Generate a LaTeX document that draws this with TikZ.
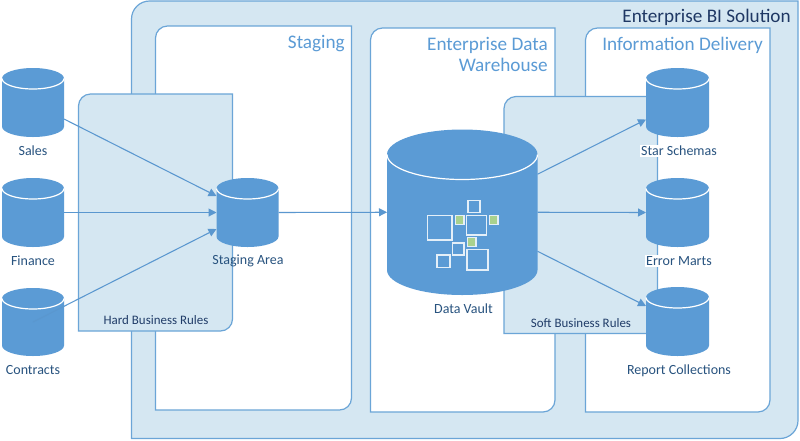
\documentclass[tikz,border=0pt]{standalone}
\usepackage{fontspec}
\setmainfont{Carlito}
\usetikzlibrary{arrows.meta,calc}
\definecolor{cylblue}{HTML}{5B9BD5}
\definecolor{linkblue}{HTML}{5A97CF}
\definecolor{edgeblue}{HTML}{6BA5D7}
\definecolor{panel}{HTML}{D5E7F2}
\definecolor{labeltxt}{HTML}{28537F}
\definecolor{darktxt}{HTML}{1F3864}
\definecolor{sqgreen}{HTML}{A9D18E}
\definecolor{sqedge}{HTML}{E4EFF8}
\tikzset{
  x=0.75pt,y=-0.75pt,
  panelbox/.style={draw=edgeblue,line width=0.9pt,fill=panel},
  whitebox/.style={draw=edgeblue,line width=0.9pt,fill=white},
  link/.style={draw=linkblue,line width=0.8pt,-{Triangle[length=6pt,width=6pt]}},
  cyllabel/.style={font=\fontsize{10.5}{12}\selectfont,text=labeltxt,inner sep=1pt},
  rulelabel/.style={font=\fontsize{9.7}{12}\selectfont,text=darktxt!85!labeltxt,inner sep=0pt},
  paneltitle/.style={font=\fontsize{14.4}{15.5}\selectfont,text=cylblue,align=right,inner sep=0pt,anchor=north east},
  smallsq/.style={draw=sqedge,line width=0.85pt},
  greensq/.style={draw=sqedge,line width=0.85pt,fill=sqgreen},
}
% box with rounded top-left and bottom-right corners: style, x1, y1, x2, y2, r
\newcommand{\tlbrbox}[6]{%
  \draw[#1] ({#2+#6},#3) -- (#4,#3) -- (#4,{#5-#6})
    .. controls (#4,{#5-0.45*#6}) and ({#4-0.45*#6},#5) .. ({#4-#6},#5)
    -- (#2,#5) -- (#2,{#3+#6})
    .. controls (#2,{#3+0.45*#6}) and ({#2+0.45*#6},#3) .. cycle;}
% cylinder: name, x1, y1, x2, y2, ry
\newcommand{\cylinder}[6]{%
  \pgfmathsetmacro{\cylw}{(#4-#2)*0.75}%
  \pgfmathsetmacro{\cylh}{(#5-#3)*0.75}%
  \pgfmathsetmacro{\cylrx}{(#4-#2)*0.375}%
  \pgfmathsetmacro{\cylry}{#6*0.75}%
  \fill[cylblue] (#2,{#3+#6}) -- (#2,{#5-#6})
    arc[start angle=180,end angle=360,x radius=\cylrx pt,y radius=\cylry pt]
    -- (#4,{#3+#6})
    arc[start angle=0,end angle=180,x radius=\cylrx pt,y radius=\cylry pt] -- cycle;
  \draw[white,line width=0.9pt] (#2,{#3+#6})
    arc[start angle=180,end angle=360,x radius=\cylrx pt,y radius=\cylry pt];
  \node[minimum width=\cylw pt,minimum height=\cylh pt,inner sep=0pt,outer sep=0pt] (#1) at ({(#2+#4)/2},{(#3+#5)/2}) {};}
\begin{document}
\begin{tikzpicture}
\useasboundingbox (0,0) rectangle (800,440);
\fill[white] (0,0) rectangle (800,440);
% containers
\tlbrbox{panelbox}{131.5}{1}{798}{438.5}{18}
\tlbrbox{whitebox}{155.5}{26}{351.5}{410}{12}
\tlbrbox{whitebox}{370.5}{28}{555}{412}{12}
\tlbrbox{whitebox}{585.5}{28}{770}{412}{12}
\tlbrbox{panelbox}{78.5}{94}{232.5}{331}{12}
\tlbrbox{panelbox}{504}{96.5}{657.5}{333.5}{12}
% cylinders
\cylinder{sales}{2}{68}{64}{137}{10.5}
\cylinder{finance}{2}{178}{64}{247}{10.5}
\cylinder{contracts}{2}{288}{64}{356}{10.5}
\cylinder{stagingarea}{216.5}{178}{278.5}{247}{10.5}
\cylinder{datavault}{387}{129.5}{537.5}{295}{25}
\cylinder{star}{646}{68}{709}{137}{10.5}
\cylinder{errormarts}{646}{178}{709}{247}{10.5}
\cylinder{report}{646}{287}{709}{356}{10.5}
% squares in the vault
\draw[smallsq] (427.5,215.5) rectangle (452,240);
\draw[smallsq] (466.5,215.5) rectangle (486.5,235);
\draw[smallsq] (468,200.5) rectangle (480,212.5);
\draw[smallsq] (452.5,243) rectangle (464,255);
\draw[smallsq] (437,255) rectangle (450,267.5);
\draw[smallsq] (467,249.5) rectangle (488,270);
\draw[greensq] (455.5,215.5) rectangle (464,224.5);
\draw[greensq] (489.5,215.5) rectangle (498,224.5);
\draw[greensq] (467.5,237.5) rectangle (476,246.5);
% connectors
\draw[link] ($(sales.east)+(0,16.5)$) -- ($(stagingarea.west)+(0,-16.5)$);
\draw[link] (finance.east) -- (stagingarea.west);
\draw[link] (contracts.center) -- ($(stagingarea.west)+(0,16.5)$);
\draw[link] (stagingarea.east) -- (datavault.west);
\draw[link] ($(datavault.east)+(0,-38)$) -- ($(star.west)+(0,17)$);
\draw[link] (datavault.east) -- (errormarts.west);
\draw[link] ($(datavault.east)+(0,39)$) -- ($(report.west)+(0,-15.5)$);
% labels
\node[cyllabel] (lsales) at (33,151) {Sales};
\node[cyllabel] (lfinance) at (33,261) {Finance};
\node[cyllabel] (lcontracts) at (33,370.5) {Contracts};
\node[cyllabel] (lstaging) at (248,261) {Staging Area};
\node[cyllabel] (lvault) at (463.5,309) {Data Vault};
\node[cyllabel,fill=white] (lstar) at (679,151) {Star Schemas};
\node[cyllabel,fill=white] (lerror) at (679,261) {Error Marts};
\node[cyllabel] (lreport) at (679,371) {Report Collections};
\node[rulelabel] (lhard) at (156,320) {Hard Business Rules};
\node[rulelabel] (lsoft) at (581,323) {Soft Business Rules};
\node[paneltitle,text=darktxt] (tbi) at (791,9) {Enterprise BI Solution};
\node[paneltitle] (tstaging) at (345,35) {Staging};
\node[paneltitle] (tedw) at (548,37) {Enterprise Data\\Warehouse};
\node[paneltitle] (tinfo) at (763,37) {Information Delivery};
\end{tikzpicture}
\end{document}
